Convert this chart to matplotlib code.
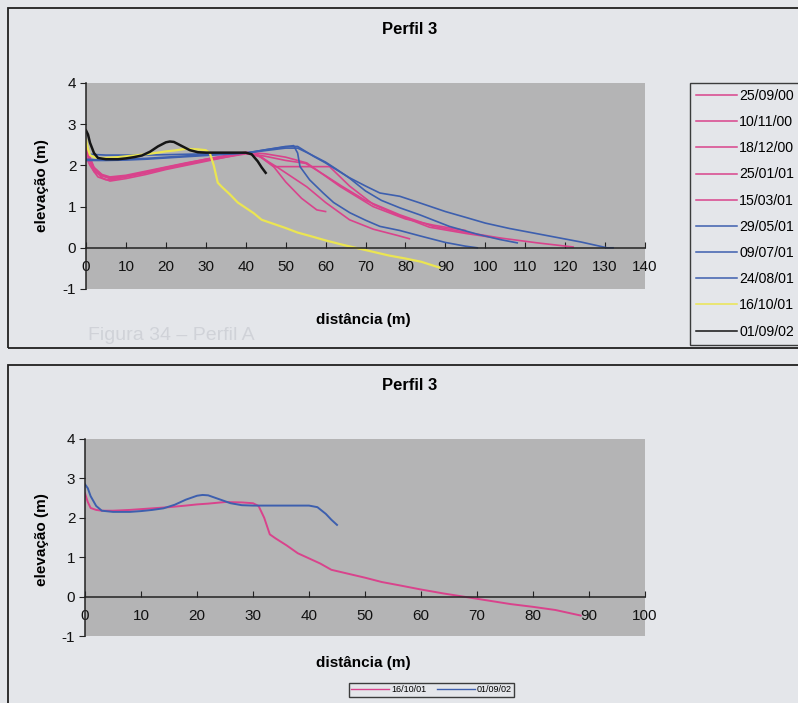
import matplotlib
matplotlib.use("Agg")
import matplotlib.pyplot as plt
from matplotlib.patches import Rectangle
from matplotlib.lines import Line2D

plt.rcParams['font.family'] = ['Liberation Sans', 'DejaVu Sans']
plt.rcParams['axes.unicode_minus'] = False

# ---------------- data ----------------
title = "Perfil 3"
xlabel = "distância (m)"
ylabel = "elevação (m)"

labels_top = ["25/09/00", "10/11/00", "18/12/00", "25/01/01", "15/03/01",
              "29/05/01", "09/07/01", "24/08/01", "16/10/01", "01/09/02"]

x_250900 = [0, 1, 2, 3, 5, 7, 10, 15, 20, 25, 30, 35, 40, 43, 47, 50, 54, 57.8, 60]
y_250900 = [2.45, 2.1, 1.85, 1.72, 1.65, 1.66, 1.72, 1.82, 1.92, 2.02, 2.12, 2.2, 2.28, 2.25, 1.97, 1.6, 1.2, 0.92, 0.88]

x_101100 = [0, 1, 2, 4, 6, 10, 15, 20, 25, 30, 35, 40, 43, 48, 55.3, 60, 66, 72, 78, 81]
y_101100 = [2.5, 2.2, 1.95, 1.75, 1.68, 1.72, 1.82, 1.93, 2.03, 2.13, 2.22, 2.3, 2.25, 1.95, 1.48, 1.1, 0.68, 0.45, 0.3, 0.22]

x_181200 = [0, 1, 2, 4, 6, 10, 15, 20, 25, 30, 35, 40, 44, 47, 54, 61, 66, 72, 78, 86, 95, 104]
y_181200 = [2.3, 2.1, 1.9, 1.7, 1.62, 1.68, 1.78, 1.9, 2.0, 2.1, 2.2, 2.3, 2.2, 1.97, 1.97, 1.97, 1.5, 1.05, 0.8, 0.5, 0.35, 0.22]

x_250101 = [0, 1, 2, 4, 6, 10, 15, 20, 25, 30, 35, 40, 45, 50, 55, 60, 64, 70, 78.6, 86.9, 95, 103.6, 113, 122]
y_250101 = [2.2, 2.0, 1.85, 1.75, 1.7, 1.74, 1.84, 1.95, 2.05, 2.15, 2.22, 2.3, 2.22, 2.12, 2.05, 1.75, 1.5, 1.15, 0.8, 0.52, 0.38, 0.24, 0.12, 0.02]

x_150301 = [0, 1, 2, 4, 6, 10, 15, 20, 25, 30, 35, 40, 45, 50, 55.3, 63.6, 71.9, 80, 87, 95]
y_150301 = [2.4, 2.15, 1.95, 1.78, 1.72, 1.76, 1.86, 1.96, 2.06, 2.15, 2.24, 2.32, 2.28, 2.2, 2.06, 1.49, 1.0, 0.7, 0.55, 0.42]

x_290501 = [0, 3, 5, 10, 15, 20, 25, 30, 35, 40, 45, 50, 52, 53, 53.6, 56, 59.4, 62, 66.1, 70, 73.6, 78.6, 83.6, 90, 95, 98]
y_290501 = [2.12, 2.12, 2.12, 2.13, 2.15, 2.18, 2.21, 2.24, 2.27, 2.3, 2.38, 2.45, 2.48, 2.3, 1.97, 1.65, 1.33, 1.1, 0.85, 0.67, 0.52, 0.42, 0.29, 0.13, 0.04, 0.0]

x_090701 = [1, 3, 5, 10, 15, 20, 25, 30, 35, 40, 45, 50, 53, 57, 60, 62.8, 66, 70, 73.6, 78.6, 83.6, 90, 95.4, 100, 106, 112, 118, 124, 130.5, 132]
y_090701 = [2.27, 2.26, 2.25, 2.25, 2.25, 2.26, 2.27, 2.28, 2.29, 2.3, 2.38, 2.46, 2.46, 2.22, 2.06, 1.89, 1.7, 1.5, 1.33, 1.25, 1.09, 0.88, 0.73, 0.6, 0.47, 0.36, 0.25, 0.14, 0.0, 0.0]

x_240801 = [0, 2, 5, 10, 15, 20, 25, 30, 35, 40, 45, 50, 53, 56, 60, 63, 66, 70, 74, 78.6, 83.6, 91, 98, 103.7, 108]
y_240801 = [2.15, 2.14, 2.14, 2.15, 2.17, 2.2, 2.23, 2.26, 2.28, 2.3, 2.36, 2.42, 2.42, 2.28, 2.08, 1.89, 1.69, 1.38, 1.15, 0.97, 0.8, 0.52, 0.33, 0.2, 0.12]

x_161001 = [0, 0.5, 1, 2, 3, 5, 8, 10, 12, 15, 18, 20, 22, 25, 28, 30, 31, 32, 33, 34, 36, 38, 40, 42, 44, 47, 50, 53, 56, 60, 64, 68, 72, 76, 80, 84, 88.5]
y_161001 = [2.62, 2.4, 2.25, 2.2, 2.18, 2.18, 2.2, 2.22, 2.24, 2.27, 2.31, 2.34, 2.36, 2.4, 2.39, 2.37, 2.3, 2.0, 1.58, 1.48, 1.3, 1.1, 0.97, 0.84, 0.68, 0.58, 0.48, 0.37, 0.29, 0.18, 0.08, -0.01, -0.1, -0.19, -0.26, -0.34, -0.48]

x_010902 = [0, 0.5, 1, 2, 3, 5, 8, 10, 12, 14, 16, 18, 20, 21, 22, 24, 26, 28, 30, 35, 40, 41.5, 43, 44, 45]
y_010902 = [2.85, 2.75, 2.55, 2.3, 2.18, 2.15, 2.15, 2.17, 2.2, 2.24, 2.33, 2.46, 2.56, 2.58, 2.57, 2.47, 2.37, 2.32, 2.31, 2.31, 2.31, 2.27, 2.1, 1.95, 1.82]

series_top = [(x_250900, y_250900), (x_101100, y_101100), (x_181200, y_181200),
              (x_250101, y_250101), (x_150301, y_150301), (x_290501, y_290501),
              (x_090701, y_090701), (x_240801, y_240801), (x_161001, y_161001),
              (x_010902, y_010902)]

labels_bottom = ["16/10/01", "01/09/02"]
series_bottom = [(x_161001, y_161001), (x_010902, y_010902)]

xticks_top = [0, 10, 20, 30, 40, 50, 60, 70, 80, 90, 100, 110, 120, 130, 140]
xticks_bottom = [0, 10, 20, 30, 40, 50, 60, 70, 80, 90, 100]
yticks = [-1, 0, 1, 2, 3, 4]

# faint show-through caption of the scanned page (outside the charts' content)
ghost_caption = "Figura 34 – Perfil A"

# ---------------- styles ----------------
PINK = '#d9438c'
BLUE = '#3d5fae'
YELLOW = '#ebe552'
BLACK = '#151515'
colors_top = [PINK] * 5 + [BLUE] * 3 + [YELLOW, BLACK]
colors_bottom = [PINK, BLUE]
PAGE = '#e4e6ea'
PLOTBG = '#b4b4b5'
GHOST = (0.25, 0.28, 0.35, 0.12)

W, H = 798, 703
fig = plt.figure(figsize=(W / 100, H / 100), dpi=100, facecolor=PAGE)


def fx(px):
    return px / W


def fy(py):
    return 1 - py / H


# chart frames
fig.patches.append(Rectangle((fx(8), fy(348)), fx(820) - fx(8), fy(8) - fy(348),
                             transform=fig.transFigure, fill=False, ec='#202020', lw=1.3))
fig.patches.append(Rectangle((fx(8), fy(720)), fx(820) - fx(8), fy(365) - fy(720),
                             transform=fig.transFigure, fill=False, ec='#202020', lw=1.3))


def style_axes(ax, xmax, xticks):
    ax.set_facecolor(PLOTBG)
    ax.set_xlim(0, xmax)
    ax.set_ylim(-1, 4)
    ax.spines['top'].set_visible(False)
    ax.spines['right'].set_visible(False)
    ax.spines['bottom'].set_position(('data', 0))
    ax.spines['bottom'].set_color('#222222')
    ax.spines['left'].set_color('#222222')
    ax.spines['bottom'].set_linewidth(1.1)
    ax.spines['left'].set_linewidth(1.1)
    ax.set_xticks(xticks)
    ax.set_yticks(yticks)
    ax.tick_params(axis='x', direction='in', length=4, pad=9, labelsize=11, colors='#222222')
    ax.tick_params(axis='y', direction='out', length=4, pad=3, labelsize=11, colors='#222222')
    for t in ax.get_xticklabels() + ax.get_yticklabels():
        t.set_color('#111111')


# top chart
ax1 = fig.add_axes([fx(86), fy(289), fx(645) - fx(86), fy(83) - fy(289)])
style_axes(ax1, 140, xticks_top)
for (xs, ys), c, lab in zip(series_top, colors_top, labels_top):
    lw = 1.8 if c == BLACK else (1.6 if c == YELLOW else 1.2)
    ax1.plot(xs, ys, color=c, lw=lw, label=lab)

leg1 = fig.legend(handles=[Line2D([], [], color=c, lw=1.1) for c in colors_top], labels=labels_top,
                  loc='upper left', bbox_to_anchor=(fx(690), fy(83)),
                  fontsize=10.2, frameon=True, fancybox=False, edgecolor='#111111',
                  facecolor=PAGE, handlelength=2.9, handletextpad=0.15,
                  labelspacing=0.86, borderpad=0.42, borderaxespad=0)
leg1.get_frame().set_linewidth(1.0)

fig.text(fx(410), fy(30), title, ha='center', va='center', fontsize=12, fontweight='bold')
fig.text(fx(363), fy(320), xlabel, ha='center', va='center', fontsize=11, fontweight='bold')
fig.text(fx(42), fy(186), ylabel, ha='center', va='center', rotation=90, fontsize=11, fontweight='bold')

# bottom chart
ax2 = fig.add_axes([fx(85), fy(636), fx(645) - fx(85), fy(439) - fy(636)])
style_axes(ax2, 100, xticks_bottom)
for (xs, ys), c, lab in zip(series_bottom, colors_bottom, labels_bottom):
    ax2.plot(xs, ys, color=c, lw=1.4, label=lab)

leg2 = fig.legend(handles=[Line2D([], [], color=c, lw=1.0) for c in colors_bottom], labels=labels_bottom,
                  loc='upper left', bbox_to_anchor=(fx(349), fy(683)), ncol=2,
                  fontsize=6.5, frameon=True, fancybox=False, edgecolor='#111111',
                  facecolor=PAGE, handlelength=4.2, handletextpad=0.2, columnspacing=1.2,
                  borderpad=0.25, borderaxespad=0)
leg2.get_frame().set_linewidth(1.0)

fig.text(fx(410), fy(385), title, ha='center', va='center', fontsize=12, fontweight='bold')
fig.text(fx(363), fy(663), xlabel, ha='center', va='center', fontsize=11, fontweight='bold')
fig.text(fx(42), fy(540), ylabel, ha='center', va='center', rotation=90, fontsize=11, fontweight='bold')

# faint show-through caption
fig.text(fx(88), fy(336), ghost_caption, ha='left', va='center', fontsize=14, color=GHOST, zorder=0)

fig.savefig('out.png', dpi=100, facecolor=PAGE)
